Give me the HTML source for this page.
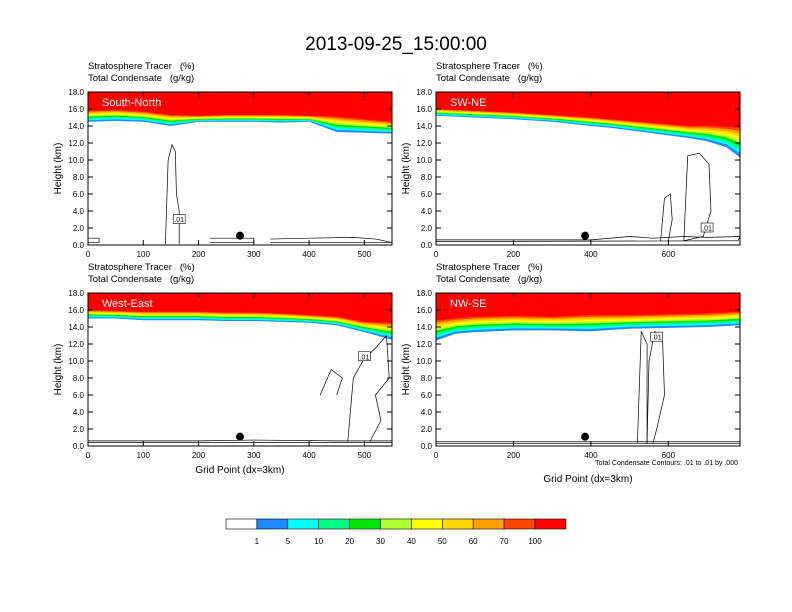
<!DOCTYPE html>
<html><head><meta charset="utf-8"><style>
body{margin:0;background:#fff}
svg{display:block;font-family:"Liberation Sans",sans-serif}
text{white-space:pre}
</style></head><body>
<svg id="fig" width="792" height="612" viewBox="0 0 792 612">
<text x="396" y="50" font-size="19" text-anchor="middle">2013-09-25_15:00:00</text>
<g id="panels"></g>
<g id="cbar"></g>
</svg>
<script>
const NS='http://www.w3.org/2000/svg';
const levelColors=['#ffffff','#1e8cff','#00ffff','#00ff80','#00e600','#b0ff30','#ffff00','#ffd700','#ffa000','#ff4500','#ff0000'];
const levelLabels=['1','5','10','20','30','40','50','60','70','100'];
const p1X=[0,50,100,150,200,250,300,350,400,450,500,550];
const p1Low=[14.5,14.6,14.5,14.0,14.5,14.5,14.5,14.4,14.5,13.3,13.2,13.1];
const p1High=[15.8,15.9,15.7,15.3,15.2,15.3,15.3,15.3,15.2,15.1,14.8,14.5];
const p2X=[0,100,200,300,400,450,500,550,600,650,700,750,785];
const p2Low=[15.2,15.0,14.8,14.5,14.0,13.8,13.5,13.2,12.9,12.6,12.2,11.5,10.3];
const p2High=[16.0,15.8,15.6,15.3,15.0,14.8,14.6,14.4,14.2,14.0,14.0,13.9,13.8];
const p3X=[0,50,100,150,200,250,300,350,400,450,500,550];
const p3Low=[15.0,15.0,14.8,14.8,14.8,14.7,14.7,14.6,14.5,14.2,13.4,12.5];
const p3High=[16.0,15.9,15.8,15.8,15.8,15.7,15.7,15.6,15.4,15.2,14.6,14.5];
const p4X=[0,50,100,200,300,400,500,600,700,785];
const p4Low=[12.4,13.2,13.4,13.6,13.6,13.5,13.8,13.9,14.0,14.2];
const p4High=[14.8,15.0,15.2,15.3,15.2,15.4,15.4,15.5,15.6,15.8];
const p1C=[[[140,0.1],[145,10],[152,11.8],[158,11],[160,6],[165,4],[165,0.1]],[[0,0.3],[20,0.3],[20,0.8],[0,0.8]],[[220,0.3],[300,0.3],[300,0.8],[220,0.8]],[[330,0.3],[550,0.3],[520,0.7],[480,0.9],[400,0.8],[330,0.7]]];
const p2C=[[[0,0.4],[780,0.5],[785,1.0],[700,0.9],[640,1.0],[560,0.8],[500,1.0],[400,0.6],[350,0.6],[0,0.6]],[[640,0.5],[650,10.5],[680,10.8],[705,9.5],[710,4],[690,1],[640,0.5]],[[580,0.5],[590,5.5],[605,6.0],[610,3],[600,0.5]]];
const p3C=[[[0,0.4],[550,0.4],[550,0.6],[450,0.6],[300,0.7],[200,0.6],[0,0.6]],[[470,0.5],[480,8],[500,10.3],[520,11.5],[540,13],[545,8],[520,6],[530,3],[510,0.5]],[[420,6],[440,9],[460,8],[450,6]]];
const p4C=[[[0,0.3],[785,0.3],[785,0.5],[0,0.5]],[[520,0.3],[530,13.5],[545,12],[545,0.3]],[[545,0.3],[550,10],[565,13.5],[585,12.5],[590,6],[570,2],[560,0.3]]];
const panels=[
 {x0:88,y0:92,name:'South-North',xmax:550,xt:[0,100,200,300,400,500],X:p1X,L:p1Low,H:p1High,C:p1C,dot:275,lab:[165,3]},
 {x0:436,y0:92,name:'SW-NE',xmax:785,xt:[0,200,400,600],X:p2X,L:p2Low,H:p2High,C:p2C,dot:385,lab:[700,2]},
 {x0:88,y0:293,name:'West-East',xmax:550,xt:[0,100,200,300,400,500],X:p3X,L:p3Low,H:p3High,C:p3C,dot:275,lab:[500,10.5]},
 {x0:436,y0:293,name:'NW-SE',xmax:785,xt:[0,200,400,600],X:p4X,L:p4Low,H:p4High,C:p4C,dot:385,lab:[570,12.8]}
];
const W=304,Hh=153;
function el(tag,attrs,parent){const e=document.createElementNS(NS,tag);for(const k in attrs)e.setAttribute(k,attrs[k]);parent.appendChild(e);return e;}
const root=document.getElementById('panels');
panels.forEach((p,i)=>{
 const g=el('g',{},root);
 
 
 const sx=v=>p.x0+v/p.xmax*W, sy=v=>p.y0+Hh-v/18*Hh;
 const t1=el('text',{x:p.x0,y:p.y0-23,'font-size':9.5},g);t1.textContent='Stratosphere Tracer   (%)';
 
 const t2=el('text',{x:p.x0,y:p.y0-11,'font-size':9.5},g);t2.textContent='Total Condensate   (g/kg)';
 
 for(let k=1;k<levelColors.length;k++){
  const f=(k-1)/(levelColors.length-2);
  let pts=p.X.map((x,j)=>sx(x)+','+sy(p.L[j]+(p.H[j]-p.L[j])*Math.pow(f,0.9)));
  pts.push(sx(p.xmax)+','+p.y0,p.x0+','+p.y0);
  const poly=el('polygon',{points:pts.join(' '),fill:levelColors[k]},g);
  
  
 }
 p.C.forEach(c=>{const pl=el('polyline',{points:c.map(q=>sx(q[0])+','+sy(q[1])).join(' '),fill:'none',stroke:'#000','stroke-width':0.7},g);
  });
 const lb=el('rect',{x:sx(p.lab[0])-6,y:sy(p.lab[1])-5,width:12,height:9,fill:'#fff',stroke:'#000','stroke-width':0.6},g);
 const lt=el('text',{x:sx(p.lab[0]),y:sy(p.lab[1])+2.5,'font-size':7,'text-anchor':'middle'},g);lt.textContent='.01';
 
 const d=el('circle',{cx:sx(p.dot),cy:sy(1.1),r:4,fill:'#000'},g);
 
 const nm=el('text',{x:p.x0+14,y:p.y0+14,'font-size':11,fill:'#fff'},g);nm.textContent=p.name;
 
 const fr=el('rect',{x:p.x0,y:p.y0,width:W,height:Hh,fill:'none',stroke:'#000','stroke-width':1},g);
 
 for(let v=0;v<=18;v+=2){const y=sy(v);
  el('line',{x1:p.x0,x2:p.x0+5,y1:y,y2:y,stroke:'#000'},g);
  el('line',{x1:p.x0+W,x2:p.x0+W-5,y1:y,y2:y,stroke:'#000'},g);
  const t=el('text',{x:p.x0-4,y:y+3,'font-size':8,'text-anchor':'end'},g);t.textContent=v.toFixed(1);
  }
 p.xt.forEach(v=>{const x=sx(v);
  el('line',{x1:x,x2:x,y1:p.y0+Hh,y2:p.y0+Hh-5,stroke:'#000'},g);
  el('line',{x1:x,x2:x,y1:p.y0,y2:p.y0+5,stroke:'#000'},g);
  const t=el('text',{x:x,y:p.y0+Hh+12,'font-size':8,'text-anchor':'middle'},g);t.textContent=v;
  });
 const yt=el('text',{x:0,y:0,'font-size':10,'text-anchor':'middle',transform:`translate(${p.x0-27},${p.y0+Hh/2}) rotate(-90)`},g);yt.textContent='Height (km)';
 
 if(i>=2){const xt=el('text',{x:p.x0+W/2,y:p.y0+Hh+(i==3?36:27),'font-size':10,'text-anchor':'middle'},g);xt.textContent='Grid Point (dx=3km)';
  }
 if(i==3){const ct=el('text',{x:p.x0+W-2,y:p.y0+Hh+19,'font-size':7,'text-anchor':'end'},g);ct.textContent='Total Condensate Contours: .01 to .01 by .000';
  }
});
const cb=document.getElementById('cbar');
levelColors.forEach((c,k)=>{const r=el('rect',{x:226+k*30.9,y:519,width:30.9,height:10,fill:c,stroke:'#000','stroke-width':0.6},cb);
 });
levelLabels.forEach((l,k)=>{const t=el('text',{x:226+(k+1)*30.9,y:544,'font-size':8,'text-anchor':'middle'},cb);t.textContent=l;
 });
</script>
</body></html>
